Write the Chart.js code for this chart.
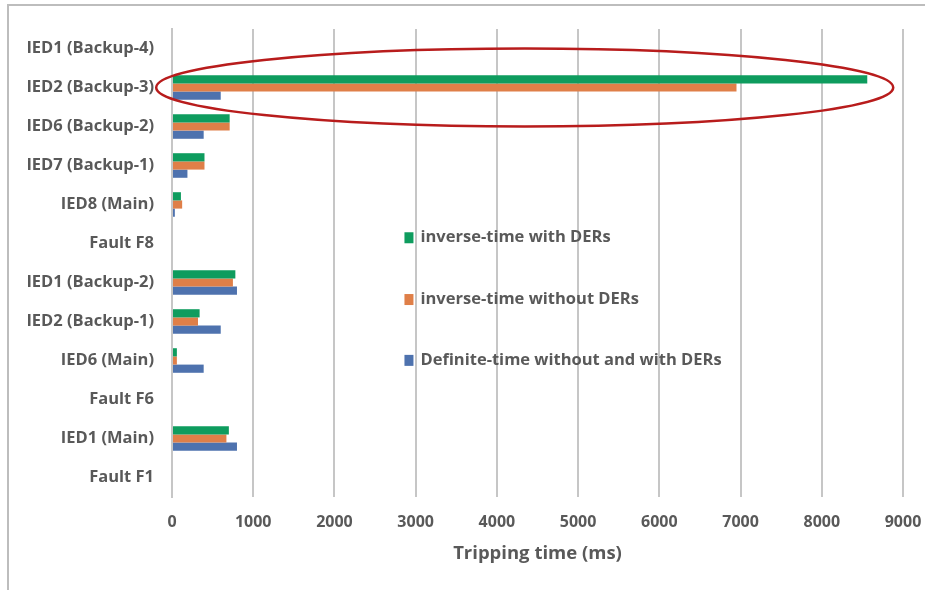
<!DOCTYPE html>
<html>
<head>
<meta charset="utf-8">
<script src="https://cdn.jsdelivr.net/npm/chart.js@4"></script>
<style>
    body { margin: 0; background: #fff; }
    #wrap { position: relative; width: 930px; height: 590px; }
    #frame {
        position: absolute; left: 7px; top: 4px; right: 5px; bottom: 0;
        border-top: 2px solid #bdbdbd; border-left: 2px solid #bdbdbd;
        pointer-events: none;
    }
</style>
</head>
<body>
<div id="wrap">
    <canvas id="chart" width="930" height="590"></canvas>
    <div id="frame"></div>
</div>
<script>
// Data (top to bottom as drawn)
const categories = ['IED1 (Backup-4)', 'IED2 (Backup-3)', 'IED6 (Backup-2)', 'IED7 (Backup-1)', 'IED8 (Main)',
    'Fault F8', 'IED1 (Backup-2)', 'IED2 (Backup-1)', 'IED6 (Main)', 'Fault F6', 'IED1 (Main)', 'Fault F1'];
const inverseWith = [null, 8560, 710, 400, 110, null, 780, 340, 60, null, 700, null];
const inverseWithout = [null, 6950, 710, 400, 125, null, 750, 320, 60, null, 670, null];
const definiteTime = [null, 600, 390, 190, 35, null, 800, 600, 390, null, 800, null];
const xTicks = [0, 1000, 2000, 3000, 4000, 5000, 6000, 7000, 8000, 9000];

const textColor = '#595959';
const gridColor = '#c6c6c6';

// Legend drawn inside the plot area, as in the original
const insideLegend = {
    id: 'insideLegend',
    afterDraw(chart) {
        const { ctx, chartArea } = chart;
        const x = chartArea.left + (chartArea.right - chartArea.left) * 0.318;
        const rows = [0.445, 0.577, 0.707];
        ctx.save();
        ctx.font = 'bold 16.5px "Open Sans", sans-serif';
        ctx.textBaseline = 'middle';
        chart.data.datasets.forEach((ds, i) => {
            const y = chartArea.top + (chartArea.bottom - chartArea.top) * rows[i];
            ctx.fillStyle = ds.backgroundColor;
            ctx.fillRect(x, y - 5, 9, 11);
            ctx.fillStyle = textColor;
            ctx.fillText(ds.label, x + 16, y);
        });
        ctx.restore();
    }
};

// Red ellipse highlighting the IED2 (Backup-3) row
const highlight = {
    id: 'highlight',
    afterDraw(chart) {
        const { ctx } = chart;
        const xs = chart.scales.x, ys = chart.scales.y;
        const left = xs.getPixelForValue(-195);
        const right = xs.getPixelForValue(8880);
        const top = ys.getPixelForValue(0);
        const bottom = ys.getPixelForValue(2);
        ctx.save();
        ctx.strokeStyle = '#b81c1c';
        ctx.lineWidth = 2.5;
        ctx.beginPath();
        ctx.ellipse((left + right) / 2, (top + bottom) / 2, (right - left) / 2, (bottom - top) / 2, 0, 0, Math.PI * 2);
        ctx.stroke();
        ctx.restore();
    }
};

new Chart(document.getElementById('chart'), {
    type: 'bar',
    data: {
        labels: categories,
        datasets: [
            { label: 'inverse-time with DERs', data: inverseWith, backgroundColor: '#0e9c5e' },
            { label: 'inverse-time without DERs', data: inverseWithout, backgroundColor: '#df7f48' },
            { label: 'Definite-time without and with DERs', data: definiteTime, backgroundColor: '#4e72ae' }
        ]
    },
    options: {
        indexAxis: 'y',
        responsive: false,
        animation: false,
        categoryPercentage: 0.63,
        barPercentage: 1.0,
        layout: { padding: { top: 29, right: 27, bottom: 25, left: 0 } },
        plugins: {
            legend: { display: false },
            tooltip: { enabled: false }
        },
        scales: {
            x: {
                min: 0,
                max: 9000,
                afterBuildTicks: (scale) => { scale.ticks = xTicks.map(v => ({ value: v })); },
                afterFit: (scale) => {
                    scale.height = 68;
                    scale.paddingLeft = 0;
                    scale.paddingRight = 0;
                },
                grid: { color: gridColor, lineWidth: 2, drawTicks: false },
                border: { display: false },
                ticks: {
                    color: textColor,
                    padding: 16,
                    font: { family: 'Open Sans', size: 16, weight: 'bold' },
                    callback: (v) => String(v)
                },
                title: {
                    display: true,
                    text: 'Tripping time (ms)',
                    color: textColor,
                    padding: 0,
                    font: { family: 'Open Sans', size: 18.5, weight: 'bold' }
                }
            },
            y: {
                afterFit: (scale) => { scale.width = 172; },
                grid: { display: false, drawTicks: false },
                border: { display: true, color: gridColor, width: 2 },
                ticks: { color: textColor, padding: 18, font: { family: 'Open Sans', size: 16.5, weight: 'bold' } }
            }
        }
    },
    plugins: [insideLegend, highlight]
});
</script>
</body>
</html>
